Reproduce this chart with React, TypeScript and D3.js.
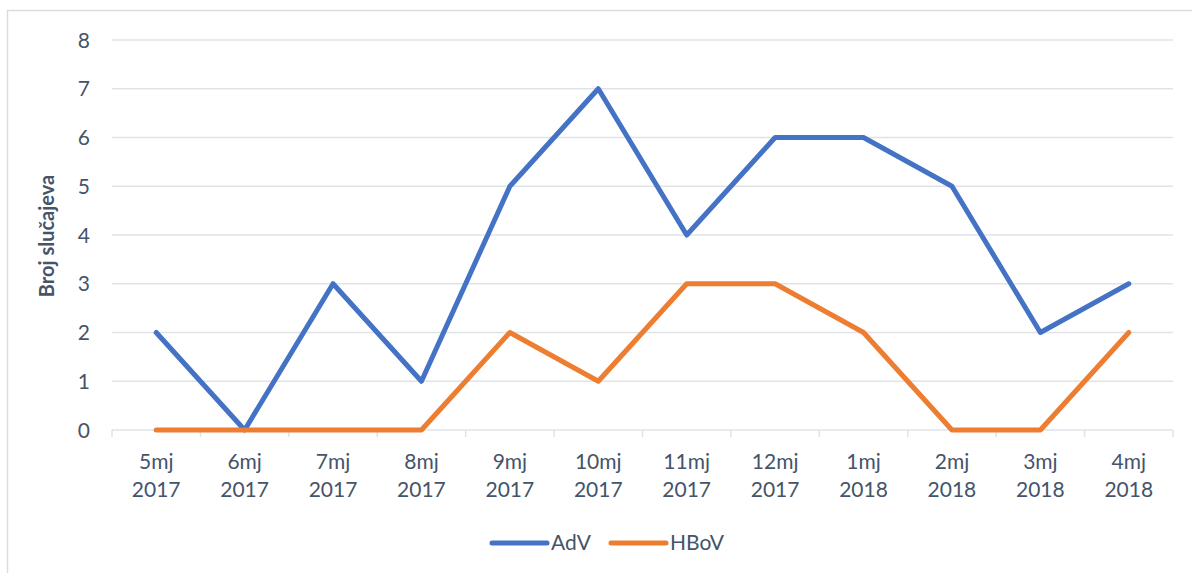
import React from "react";
import * as d3 from "d3";

const categories: string[][] = [
  ["5mj", "2017"], ["6mj", "2017"], ["7mj", "2017"], ["8mj", "2017"],
  ["9mj", "2017"], ["10mj", "2017"], ["11mj", "2017"], ["12mj", "2017"],
  ["1mj", "2018"], ["2mj", "2018"], ["3mj", "2018"], ["4mj", "2018"],
];
const adv = [2, 0, 3, 1, 5, 7, 4, 6, 6, 5, 2, 3];
const hbov = [0, 0, 0, 0, 2, 1, 3, 3, 2, 0, 0, 2];
const yTicks = [0, 1, 2, 3, 4, 5, 6, 7, 8];
const seriesNames = ["AdV", "HBoV"];
const colors = ["#4472C4", "#ED7D31"];

export default function App() {
  const W = 1192, H = 573;
  const left = 112, right = 1173, top = 40, bottom = 430;
  const keys = categories.map((_, i) => String(i));
  const x = d3.scaleBand<string>().domain(keys).range([left, right]);
  const y = d3.scaleLinear().domain([0, 8]).range([bottom, top]);
  const line = d3
    .line<number>()
    .x((_, i) => (x(String(i)) as number) + x.bandwidth() / 2)
    .y((d) => y(d));
  const font = "Lato, 'Noto Sans', sans-serif";
  const textColor = "#44546A";
  const series = [adv, hbov];
  return (
    <svg
      width={W}
      height={H}
      style={{ position: "absolute", left: 0, top: 0, background: "#fff" }}
      fontFamily={font}
    >
      <rect x={7.5} y={10.5} width={W + 20} height={H + 20} fill="#fff" stroke="#D9DDE3" strokeWidth={1.5} />
      {yTicks.map((t) => (
        <g key={t}>
          {t > 0 && (
            <line x1={left} x2={right} y1={y(t)} y2={y(t)} stroke="#DFE3E8" strokeWidth={1.5} />
          )}
          <text x={90} y={y(t)} dy="0.36em" textAnchor="end" fontSize={21} fill={textColor}>
            {t}
          </text>
        </g>
      ))}
      <line x1={left} x2={right} y1={bottom} y2={bottom} stroke="#DFE3E8" strokeWidth={1.5} />
      {d3.range(categories.length + 1).map((i) => {
        const xx = left + i * x.bandwidth();
        return <line key={i} x1={xx} x2={xx} y1={bottom} y2={bottom + 7} stroke="#DFE3E8" strokeWidth={1.5} />;
      })}
      {categories.map((c, i) => {
        const cx = (x(String(i)) as number) + x.bandwidth() / 2;
        return (
          <text key={i} x={cx} textAnchor="middle" fontSize={21} fill={textColor}>
            <tspan x={cx} y={469}>{c[0]}</tspan>
            <tspan x={cx} y={497}>{c[1]}</tspan>
          </text>
        );
      })}
      <text
        transform={`translate(54, ${(top + bottom) / 2 + 1}) rotate(-90)`}
        textAnchor="middle"
        fontSize={20}
        fontWeight="bold"
        fill={textColor}
      >
        Broj slučajeva
      </text>
      {series.map((s, k) => (
        <path
          key={k}
          d={line(s) as string}
          fill="none"
          stroke={colors[k]}
          strokeWidth={5}
          strokeLinejoin="round"
          strokeLinecap="round"
        />
      ))}
      {seriesNames.map((n, k) => {
        const lx = [492, 611][k];
        return (
          <g key={n}>
            <line x1={lx} x2={lx + 55} y1={543} y2={543} stroke={colors[k]} strokeWidth={5} strokeLinecap="round" />
            <text x={lx + 59} y={550} fontSize={21} fill={textColor}>
              {n}
            </text>
          </g>
        );
      })}
    </svg>
  );
}
